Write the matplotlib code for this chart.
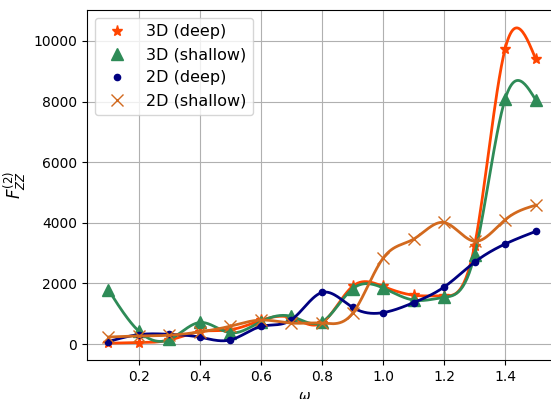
import numpy as np
import matplotlib
matplotlib.use("Agg")
import matplotlib.pyplot as plt

# ── Data ──────────────────────────────────────────────────────────────────────

omega = [0.1, 0.2, 0.3, 0.4, 0.5, 0.6, 0.7, 0.8, 0.9, 1.0, 1.1, 1.2, 1.3, 1.4, 1.5]

deep_3d = [25, 45, 130, 410, 470, 780, 870, 700, 1900, 1900, 1610, 1590, 3250, 9740, 9410]
shallow_3d = [1790, 420, 150, 710, 370, 740, 910, 730, 1820, 1850, 1450, 1540, 2940, 8080, 8060]
deep_2d = [80, 310, 320, 225, 135, 580, 800, 1700, 1210, 1035, 1365, 1880, 2700, 3300, 3715]
shallow_2d = [230, 265, 290, 400, 590, 790, 690, 690, 1010, 2830, 3460, 4010, 3390, 4100, 4580]

labels = ["3D (deep)", "3D (shallow)", "2D (deep)", "2D (shallow)"]
colors = ["#FF4500", "#2E8B57", "#000080", "#D2691E"]
markers = ["*", "^", "o", "x"]
msizes = [8, 9, 4.5, 9]


# ── Smooth curve (natural cubic spline) ───────────────────────────────────────

def spline(x, y, xs):
    x = np.asarray(x, float)
    y = np.asarray(y, float)
    n = len(x)
    h = np.diff(x)
    A = np.zeros((n, n))
    b = np.zeros(n)
    A[0, 0] = A[-1, -1] = 1
    for i in range(1, n - 1):
        A[i, i - 1] = h[i - 1]
        A[i, i] = 2 * (h[i - 1] + h[i])
        A[i, i + 1] = h[i]
        b[i] = 6 * ((y[i + 1] - y[i]) / h[i] - (y[i] - y[i - 1]) / h[i - 1])
    M = np.linalg.solve(A, b)
    idx = np.clip(np.searchsorted(x, xs) - 1, 0, n - 2)
    x0, x1 = x[idx], x[idx + 1]
    hi = h[idx]
    return (M[idx] * (x1 - xs) ** 3 / (6 * hi)
            + M[idx + 1] * (xs - x0) ** 3 / (6 * hi)
            + (y[idx] / hi - M[idx] * hi / 6) * (x1 - xs)
            + (y[idx + 1] / hi - M[idx + 1] * hi / 6) * (xs - x0))


# ── Plot ──────────────────────────────────────────────────────────────────────

fig = plt.figure(figsize=(5.51, 3.99), dpi=100)
ax = fig.add_axes([87 / 551, 39 / 399, 470 / 551, 350 / 399])

xs = np.linspace(omega[0], omega[-1], 400)
series = [deep_3d, shallow_3d, deep_2d, shallow_2d]
for ys, lab, c, m, ms in zip(series, labels, colors, markers, msizes):
    ax.plot(xs, spline(omega, ys, xs), color=c, linewidth=2)
    ax.plot(omega, ys, linestyle="none", marker=m, markersize=ms,
            color=c, label=lab)

ax.set_xlim(0.03, 1.57)
ax.set_ylim(-528, 11023)
ax.set_xticks([0.2, 0.4, 0.6, 0.8, 1.0, 1.2, 1.4])
ax.set_yticks([0, 2000, 4000, 6000, 8000, 10000])
ax.tick_params(labelsize=10)
ax.set_xlabel(r"$\omega$", fontsize=10, x=(305 - 87) / 470)
ax.set_ylabel(r"$F_{ZZ}^{(2)}$", fontsize=12)
ax.grid(True)
ax.legend(loc="upper left", fontsize=11.5)

fig.savefig("out.png", dpi=100)
